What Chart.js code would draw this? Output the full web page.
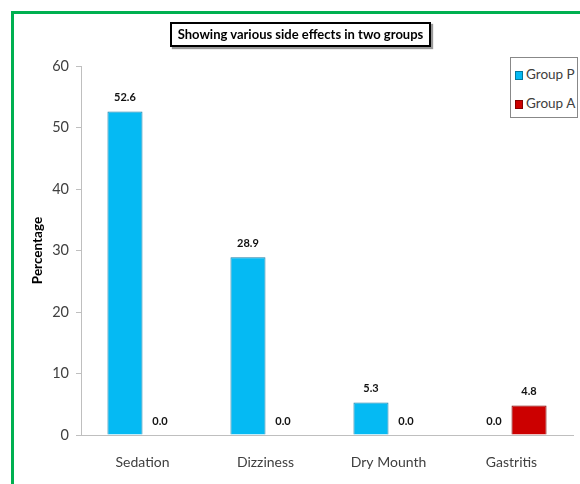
<!DOCTYPE html>
<html>
<head>
<meta charset="utf-8">
<script src="https://cdn.jsdelivr.net/npm/chart.js@4.4.1/dist/chart.umd.min.js"></script>
<style>
  html,body{margin:0;padding:0;background:#fff;width:580px;height:484px;overflow:hidden;}
  #wrap{position:relative;width:580px;height:484px;}
  #frame{position:absolute;left:11px;top:11px;width:600px;height:600px;border:3px solid #00B050;box-sizing:border-box;}
  #c{position:absolute;left:0;top:0;}
  #title{position:absolute;left:170px;top:22px;width:261px;height:25px;box-sizing:border-box;border:2px solid #000;background:#fff;
    box-shadow:2px 2px 1px #999;font:bold 13px Lato,"Open Sans",sans-serif;color:#000;text-align:center;line-height:21px;white-space:nowrap;}
  #legend{position:absolute;left:510px;top:57px;width:68px;height:61px;box-sizing:border-box;border:1px solid #888;background:#fff;
    font:13.5px Lato,"Open Sans",sans-serif;color:#404040;}
  .li{position:absolute;left:4px;height:16px;line-height:16px;white-space:nowrap;}
  .sw{display:inline-block;width:8px;height:9px;margin-right:3px;vertical-align:-1px;border:1px solid rgba(0,0,0,0.35);box-sizing:border-box;}
</style>
</head>
<body>
<div id="wrap">
  <div id="frame"></div>
  <canvas id="c" width="580" height="484"></canvas>
  <div id="title"></div>
  <div id="legend"></div>
</div>
<script>
const chartTitle = "Showing various side effects in two groups";
const yAxisTitle = "Percentage";
const categories = ["Sedation", "Dizziness", "Dry Mounth", "Gastritis"];
const seriesNames = ["Group P", "Group A"];
const groupP = [52.6, 28.9, 5.3, 0.0];
const groupA = [0.0, 0.0, 0.0, 4.8];
const yTicks = [0, 10, 20, 30, 40, 50, 60];

const fills = ["#05BAF3", "#CC0000"];
const edges = ["#1B7FA6", "#7A0000"];

document.getElementById('title').textContent = chartTitle;
const leg = document.getElementById('legend');
seriesNames.forEach((n, i) => {
  const d = document.createElement('div');
  d.className = 'li';
  d.style.top = (i === 0 ? 8 : 37) + 'px';
  d.innerHTML = '<span class="sw" style="background:' + fills[i] + '"></span>' + n;
  leg.appendChild(d);
});

const FONT = 'Lato,"Open Sans",sans-serif';

const valueLabels = {
  id: 'valueLabels',
  afterDatasetsDraw(chart) {
    const ctx = chart.ctx;
    ctx.save();
    ctx.font = 'bold 11px ' + FONT;
    ctx.fillStyle = '#111';
    ctx.textAlign = 'center';
    ctx.textBaseline = 'middle';
    chart.data.datasets.forEach((ds, di) => {
      chart.getDatasetMeta(di).data.forEach((bar, i) => {
        ctx.fillText(ds.data[i].toFixed(1), bar.x, bar.y - 14);
      });
    });
    ctx.restore();
  }
};

new Chart(document.getElementById('c'), {
  type: 'bar',
  data: {
    labels: categories,
    datasets: [
      { label: seriesNames[0], data: groupP, backgroundColor: fills[0], borderColor: edges[0], borderWidth: 1 },
      { label: seriesNames[1], data: groupA, backgroundColor: fills[1], borderColor: edges[1], borderWidth: 1 }
    ]
  },
  options: {
    responsive: false,
    animation: false,
    devicePixelRatio: 1,
    layout: { padding: { top: 66, right: 7, left: 30, bottom: 0 } },
    plugins: { legend: { display: false }, title: { display: false }, tooltip: { enabled: false } },
    datasets: { bar: { categoryPercentage: 0.57, barPercentage: 1.0 } },
    scales: {
      x: {
        grid: { display: false, drawTicks: false },
        border: { display: true, color: '#BFBFBF', width: 1 },
        ticks: { color: '#404040', font: { family: FONT, size: 14 }, padding: 19 },
        afterFit(s) { s.height = 49; }
      },
      y: {
        min: 0, max: 60,
        afterBuildTicks(s) { s.ticks = yTicks.map(v => ({ value: v })); },
        grid: { drawOnChartArea: false, drawTicks: true, tickLength: 5, color: '#BFBFBF' },
        border: { display: true, color: '#BFBFBF', width: 1 },
        ticks: { color: '#404040', font: { family: FONT, size: 14.5 }, padding: 7 },
        title: { display: true, text: yAxisTitle, color: '#000', font: { family: FONT, size: 13.5, weight: 'bold' }, padding: { top: 0, bottom: 0 } },
        afterFit(s) { s.width = 51; }
      }
    }
  },
  plugins: [valueLabels]
});
</script>
</body>
</html>
